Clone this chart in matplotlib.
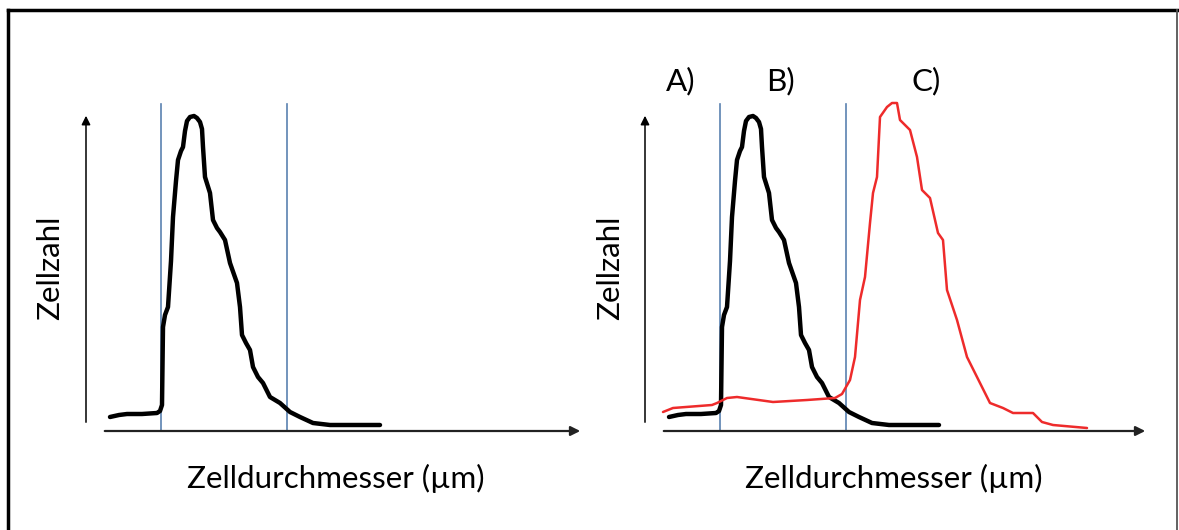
import matplotlib
matplotlib.use('Agg')
import matplotlib.pyplot as plt
from matplotlib.lines import Line2D
import numpy as np

plt.rcParams['font.family'] = ['Lato', 'DejaVu Sans']

# Zelldurchmesser / Zellzahl in willkürlichen Einheiten
black_x = [24, 33, 41, 56, 71, 74, 76, 77, 79, 82, 85, 87, 90, 92, 95, 97, 99, 101, 104, 108, 111, 114, 116,
           117, 119, 124, 127, 131, 134, 139, 144, 151, 154, 156, 160, 164, 167, 172, 177, 184, 194,
           204, 214, 227, 244, 270, 294]
black_y = [14, 16, 17, 17, 18, 20, 26, 104, 116, 124, 170, 214, 250, 271, 280, 284, 300, 310, 314, 315, 313, 309, 302,
           284, 254, 238, 211, 203, 199, 191, 168, 148, 124, 96, 88, 81, 64, 54, 48, 34, 28,
           19, 14, 8, 6, 6, 6]

red_x = [18, 28, 67, 72, 82, 92, 128, 162, 190, 197, 205, 210, 215, 220, 225, 228, 232, 235, 242,
         247, 252, 255, 265, 272, 277, 285, 293, 298, 302, 312, 322, 332, 345, 358, 368, 388, 397, 408, 442]
red_y = [19, 23, 26, 28, 33, 34, 29, 31, 33, 37, 51, 74, 131, 154, 208, 238, 254, 314, 324,
         328, 328, 311, 301, 274, 241, 233, 198, 191, 141, 111, 74, 54, 28, 23, 18, 18, 9, 6, 3]

gates = [75, 201]
x_label = 'Zelldurchmesser (µm)'
y_label = 'Zellzahl'
group_labels = ['A)', 'B)', 'C)']

W, H = 1179, 530
fig = plt.figure(figsize=(W / 100, H / 100), dpi=100)


def px(x, y):
    return x / W, 1 - y / H


def make_axes(x0, x_end):
    # Datenkoordinaten = Pixel relativ zum Ursprung (x0, 431)
    ax = fig.add_axes([x0 / W, (H - 431) / H, 520 / W, 340 / H])
    ax.set_xlim(0, 520)
    ax.set_ylim(0, 340)
    ax.axis('off')
    ax.annotate('', xy=(0, 318), xytext=(0, 6),
                arrowprops=dict(arrowstyle='-|>', color='black', lw=1.1, mutation_scale=13))
    ax.annotate('', xy=(x_end, 0), xytext=(16, 0),
                arrowprops=dict(arrowstyle='-|>', color='#222222', lw=1.6, mutation_scale=14))
    for g in gates:
        ax.plot([g, g], [0, 327], color='#5a82b0', lw=1.2)
    return ax


ax1 = make_axes(86, 497)
ax1.plot(black_x, black_y, color='black', lw=3.2, solid_joinstyle='round', solid_capstyle='round')

ax2 = make_axes(645, 503)
ax2.plot(black_x, black_y, color='black', lw=3.2, solid_joinstyle='round', solid_capstyle='round')
ax2.plot(red_x, red_y, color='#ee2b2b', lw=1.8, solid_joinstyle='round', solid_capstyle='round')

fs = 22.6
for cx in (336, 894):
    fig.text(*px(cx, 478), x_label, fontsize=fs, ha='center', va='center')
for cx in (50, 610):
    fig.text(*px(cx, 268), y_label, fontsize=fs, ha='center', va='center', rotation=90)
for lab, cx in zip(group_labels, (681, 780, 926)):
    fig.text(*px(cx, 81), lab, fontsize=fs, ha='center', va='center')

# Rahmen
fig.add_artist(Line2D([8 / W, 8 / W], [0, 1 - 10 / H], transform=fig.transFigure, color='black', lw=2.5))
fig.add_artist(Line2D([8 / W, 1177 / W], [1 - 10 / H, 1 - 10 / H], transform=fig.transFigure, color='black', lw=2.5))
fig.add_artist(Line2D([1177 / W, 1177 / W], [0, 1 - 10 / H], transform=fig.transFigure, color='#555555', lw=1.3))

fig.savefig('out.png', dpi=100)
